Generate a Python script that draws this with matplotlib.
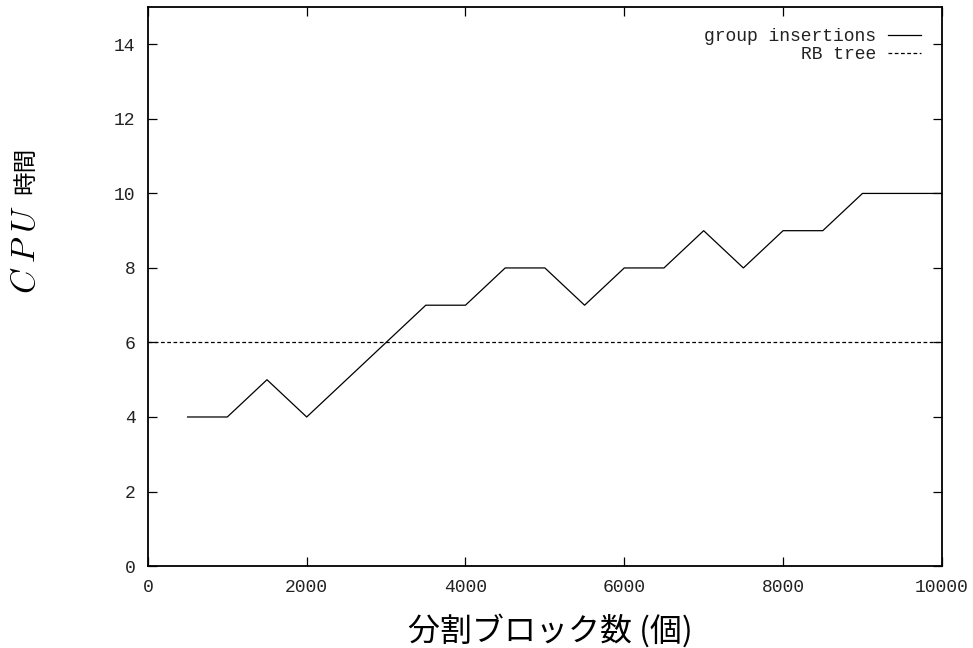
import matplotlib
matplotlib.use("Agg")
import matplotlib.pyplot as plt

plt.rcParams['mathtext.fontset'] = 'cm'

block_counts = [500, 1000, 1500, 2000, 2500, 3000, 3500, 4000, 4500, 5000,
                5500, 6000, 6500, 7000, 7500, 8000, 8500, 9000, 9500, 10000]
group_insertions = [4, 4, 5, 4, 5, 6, 7, 7, 8, 8,
                    7, 8, 8, 9, 8, 9, 9, 10, 10, 10]
rb_x = [0, 10000]
rb_tree = [6, 6]

x_ticks = [0, 2000, 4000, 6000, 8000, 10000]
y_ticks = [0, 2, 4, 6, 8, 10, 12, 14]

mono = 'Liberation Mono'
cjk = ['Noto Sans CJK JP', 'DejaVu Sans']

W, H = 973, 648
fig = plt.figure(figsize=(W / 100, H / 100), dpi=100)
ax = fig.add_axes([0.152, 0.1265, 0.816, 0.8625])

ax.plot(block_counts, group_insertions, color='black', lw=0.9, label='group insertions')
ax.plot(rb_x, rb_tree, color='black', lw=0.9, ls=(0, (3, 2)), label='RB tree')

ax.set_xlim(0, 10000)
ax.set_ylim(0, 15)
ax.set_xticks(x_ticks)
ax.set_yticks(y_ticks)
ax.tick_params(direction='in', top=True, right=True, length=6.5, width=0.9,
               labelsize=13, pad=9, labelcolor='#222222')
for lab in ax.get_xticklabels() + ax.get_yticklabels():
    lab.set_family(mono)
for s in ax.spines.values():
    s.set_linewidth(1.3)

# axis titles
fig.text(550 / W, 1 - 631 / H, '分割ブロック数 (個)', family=cjk, fontsize=23,
         ha='center', va='center')
fig.text(26 / W, 1 - 250 / H, r'$C\;P\;U$', fontsize=24, rotation=90,
         ha='center', va='center')
fig.text(26 / W, 1 - 170 / H, '時間', family=cjk, fontsize=17, rotation=90,
         ha='center', va='center')

leg = ax.legend(loc='upper right', frameon=False, markerfirst=False,
                prop={'family': mono, 'size': 13}, handlelength=1.85,
                handletextpad=0.65, labelspacing=0.08, borderaxespad=0.75)
for t in leg.get_texts():
    t.set_ha('right')
    t.set_color('#222222')

fig.savefig('out.png', dpi=100)
